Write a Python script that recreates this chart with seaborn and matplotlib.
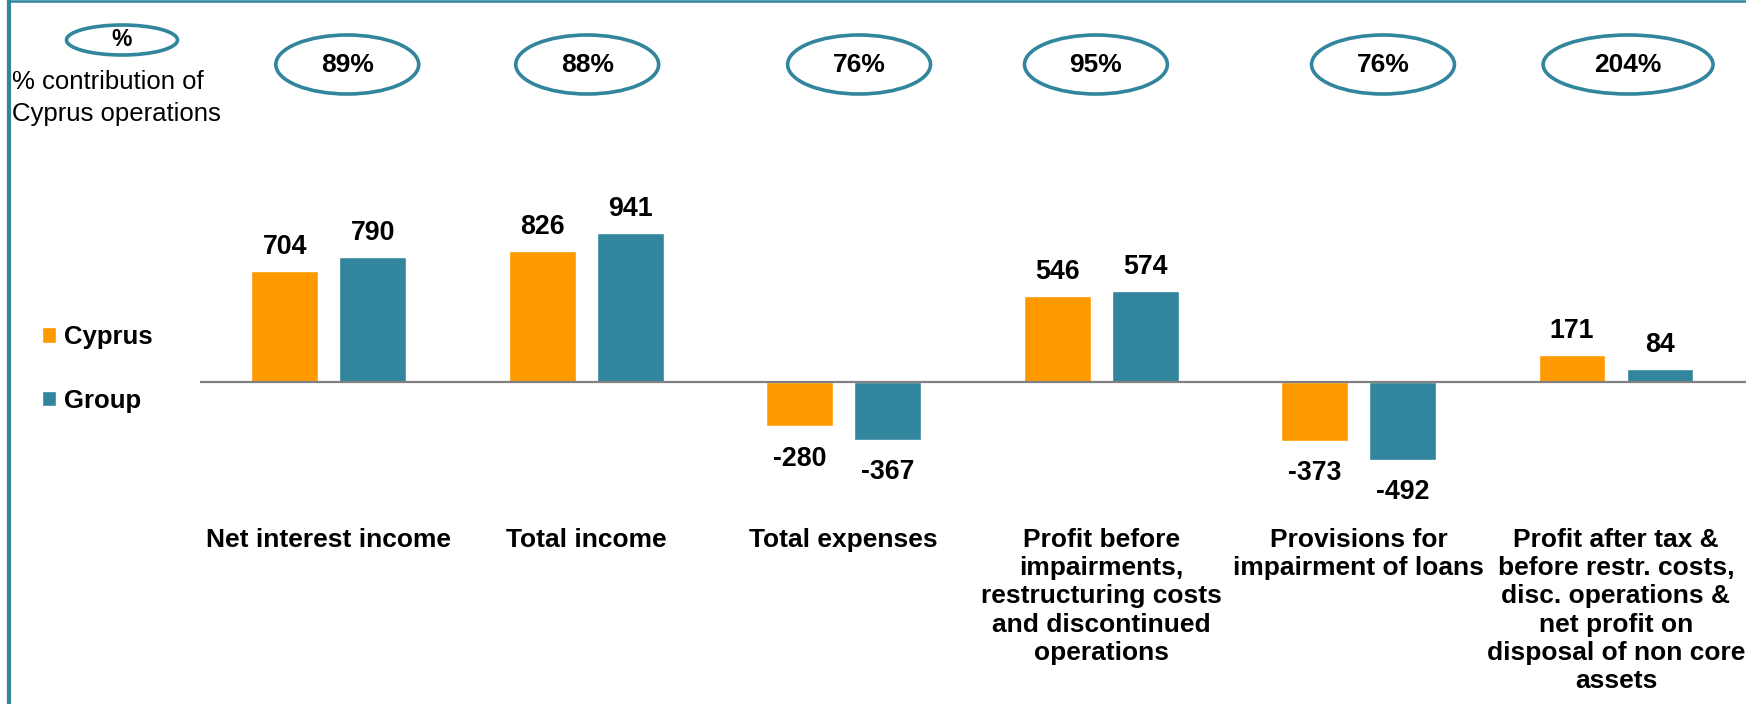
import matplotlib
matplotlib.use("Agg")
import matplotlib.pyplot as plt
from matplotlib.patches import Ellipse
from matplotlib.lines import Line2D
from matplotlib.transforms import blended_transform_factory
import seaborn as sns
import pandas as pd

# chart data
categories = ["Net interest income", "Total income", "Total expenses",
              "Profit before\nimpairments,\nrestructuring costs\nand discontinued\noperations",
              "Provisions for\nimpairment of loans",
              "Profit after tax &\nbefore restr. costs,\ndisc. operations &\nnet profit on\ndisposal of non core\nassets"]
cyprus = [704, 826, -280, 546, -373, 171]
group = [790, 941, -367, 574, -492, 84]
contribution = ["89%", "88%", "76%", "95%", "76%", "204%"]
series = ["Cyprus", "Group"]

# layout only
oval_shift = [0.072, 0.004, 0.06, -0.02, 0.095, 0.047]
oval_w = [0.555, 0.555, 0.555, 0.555, 0.555, 0.66]
orange = "#FF9900"
teal = "#31859C"

df = pd.DataFrame({
    "cat": categories * 2,
    "series": ["Cyprus"] * 6 + ["Group"] * 6,
    "value": cyprus + group,
})

sns.set_style("white")
plt.rcParams["font.family"] = ["Liberation Sans", "DejaVu Sans"]
plt.rcParams["text.color"] = "black"
plt.rcParams["xtick.color"] = "black"

W, H = 1746, 704
fig = plt.figure(figsize=(W / 100, H / 100), dpi=100)
ax = fig.add_axes([200 / W, (H - 510) / H, 1546 / W, 360 / H])

sns.barplot(data=df, x="cat", y="value", hue="series", order=categories,
            hue_order=series, palette={"Cyprus": orange, "Group": teal},
            width=0.684, gap=0.24, saturation=1, ax=ax)

ax.set_xlim(-0.5, 5.505)
ax.set_ylim(-810, 1468)
ax.axhline(0, color="#808080", lw=1.6, zorder=5)
for s in ax.spines.values():
    s.set_visible(False)
ax.set_yticks([])
ax.set_xlabel("")
ax.set_ylabel("")
ax.tick_params(axis="x", length=0, pad=13)
ax.set_xticks(range(len(categories)))
ax.set_xticklabels(categories, fontsize=19, fontweight="bold", linespacing=1.22)

# value labels
for cont in ax.containers:
    for bar in cont:
        v = bar.get_height()
        x = bar.get_x() + bar.get_width() / 2
        if v >= 0:
            ax.annotate(f"{v:.0f}", (x, v), xytext=(0, 8), textcoords="offset points",
                        ha="center", va="bottom", fontsize=19.3, fontweight="bold")
        else:
            ax.annotate(f"{v:.0f}", (x, v), xytext=(0, -14), textcoords="offset points",
                        ha="center", va="top", fontsize=19.3, fontweight="bold")

# legend
sns.move_legend(ax, "upper left", bbox_to_anchor=(42 / W, 1 - 325 / H),
                bbox_transform=fig.transFigure, frameon=False, title=None,
                prop={"size": 18.5, "weight": "bold"}, handlelength=0.55,
                handleheight=0.55, handletextpad=0.3, labelspacing=1.55,
                borderpad=0, borderaxespad=0)

# contribution ovals
trans = blended_transform_factory(ax.transData, fig.transFigure)
yc = 1 - 64.5 / H
for i, lab in enumerate(contribution):
    xc = i + oval_shift[i]
    ax.add_patch(Ellipse((xc, yc), oval_w[i], 59 / H, transform=trans,
                         fill=False, edgecolor=teal, lw=2.6, clip_on=False))
    ax.text(xc, yc, lab, transform=trans, ha="center", va="center",
            fontsize=19, fontweight="bold", clip_on=False)

fig.add_artist(Ellipse((122 / W, 1 - 40 / H), 111 / W, 30 / H, transform=fig.transFigure,
                       fill=False, edgecolor=teal, lw=2.6))
fig.text(122 / W, 1 - 40 / H, "%", ha="center", va="center", fontsize=16.5, fontweight="bold")
fig.text(12 / W, 1 - 98 / H, "% contribution of\nCyprus operations", ha="left",
         va="center", fontsize=18.5, linespacing=1.4)

# frame lines
fig.add_artist(Line2D([9 / W, 9 / W], [0, 1], transform=fig.transFigure, color=teal, lw=3))
fig.add_artist(Line2D([9 / W, 1], [1 - 1 / H, 1 - 1 / H], transform=fig.transFigure,
                      color=teal, lw=1.8))

fig.savefig("out.png", dpi=100)
